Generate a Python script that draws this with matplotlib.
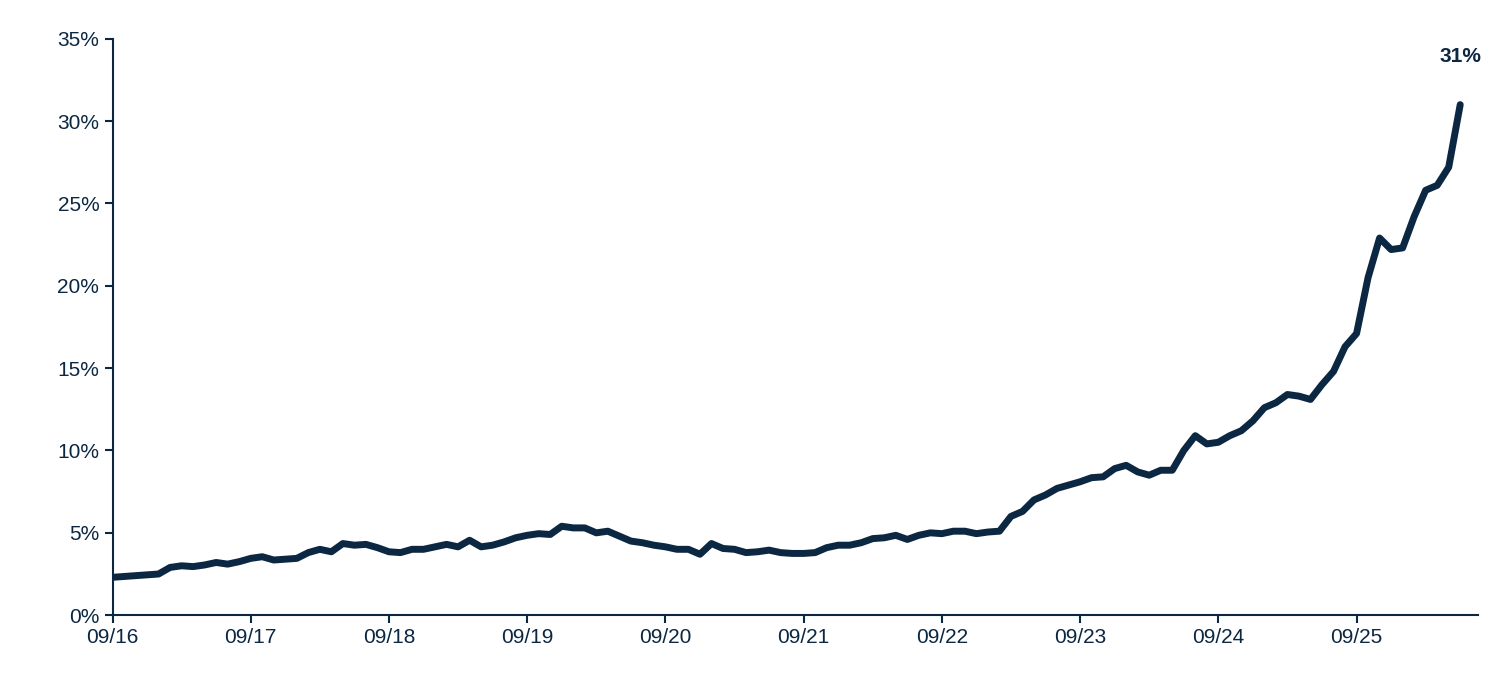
import matplotlib
matplotlib.use("Agg")
import matplotlib.pyplot as plt

values = [2.3,2.35,2.4,2.45,2.5,2.9,3.0,2.95,3.05,3.2,3.1,3.25,3.45,3.55,3.35,3.4,3.45,3.8,4.0,3.85,
          4.35,4.25,4.3,4.1,3.85,3.8,4.0,4.0,4.15,4.3,4.15,4.55,4.15,4.25,4.45,4.7,4.85,4.95,4.9,5.4,
          5.3,5.3,5.0,5.1,4.8,4.5,4.4,4.25,4.15,4.0,4.0,3.7,4.35,4.05,4.0,3.8,3.85,3.95,3.8,3.75,
          3.75,3.8,4.1,4.25,4.25,4.4,4.65,4.7,4.85,4.6,4.85,5.0,4.95,5.1,5.1,4.95,5.05,5.1,6.0,6.3,
          7.0,7.3,7.7,7.9,8.1,8.35,8.4,8.9,9.1,8.7,8.5,8.8,8.8,10.0,10.9,10.4,10.5,10.9,11.2,11.8,
          12.6,12.9,13.4,13.3,13.1,14.0,14.8,16.3,17.1,20.5,22.9,22.2,22.3,24.2,25.8,26.1,27.2,31.0]
tick_labels = ["09/16","09/17","09/18","09/19","09/20","09/21","09/22","09/23","09/24","09/25"]
y_ticks = [0,5,10,15,20,25,30,35]
end_label = "31%"

navy = "#0b2742"
plt.rcParams['font.family'] = ['Liberation Sans', 'DejaVu Sans']
fig = plt.figure(figsize=(15, 6.92), dpi=100)
ax = fig.add_axes([0.075, 0.111, 0.91, 0.833])
x = list(range(len(values)))
ax.plot(x, values, color=navy, lw=5, solid_joinstyle='round', solid_capstyle='round')
ax.annotate(end_label, (x[-1], values[-1]), xytext=(0, 28), textcoords='offset points',
            ha='center', va='bottom', fontsize=15, fontweight='bold', color=navy)
ax.set_xlim(0, 118.5)
ax.set_ylim(0, 35)
ax.set_xticks([12*i for i in range(len(tick_labels))])
ax.set_xticklabels(tick_labels)
ax.set_yticks(y_ticks)
ax.set_yticklabels([f"{v}%" for v in y_ticks])
for s in ['top', 'right']:
    ax.spines[s].set_visible(False)
for s in ['left', 'bottom']:
    ax.spines[s].set_color(navy)
    ax.spines[s].set_linewidth(1.5)
ax.tick_params(colors=navy, labelsize=15, width=1.5, length=6, direction='out')
fig.savefig("out.png", dpi=100)
